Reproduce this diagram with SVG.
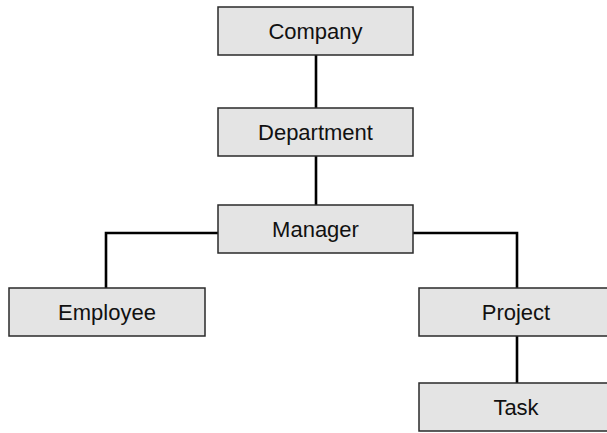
<svg xmlns="http://www.w3.org/2000/svg" width="607" height="433" viewBox="0 0 607 433">
<style>
.box{fill:#e4e4e4;stroke:#2a2a2a;stroke-width:1.5}
.lbl{font-family:"Liberation Sans",Arial,sans-serif;font-size:22px;fill:#111;text-anchor:middle}
.conn{fill:none;stroke:#000;stroke-width:2.6}
</style>
<rect width="607" height="433" fill="#fff"/>
<g id="connectors">
<path class="conn" d="M316 55V108"/>
<path class="conn" d="M316 156V205"/>
<path class="conn" d="M218 233H106V288"/>
<path class="conn" d="M413 233H517V288"/>
<path class="conn" d="M517 336V383"/>
</g>
<g id="company"><rect class="box" x="218" y="7" width="195" height="48"/><text class="lbl" x="315.5" y="39">Company</text></g>
<g id="department"><rect class="box" x="218" y="108" width="195" height="48"/><text class="lbl" x="315.5" y="140">Department</text></g>
<g id="manager"><rect class="box" x="218" y="205" width="195" height="48"/><text class="lbl" x="315.5" y="237">Manager</text></g>
<g id="employee"><rect class="box" x="9" y="288" width="196" height="48"/><text class="lbl" x="107" y="320">Employee</text></g>
<g id="project"><rect class="box" x="419" y="288" width="195" height="48"/><text class="lbl" x="516" y="320">Project</text></g>
<g id="task"><rect class="box" x="419" y="383" width="195" height="48"/><text class="lbl" x="516" y="415">Task</text></g>
</svg>
